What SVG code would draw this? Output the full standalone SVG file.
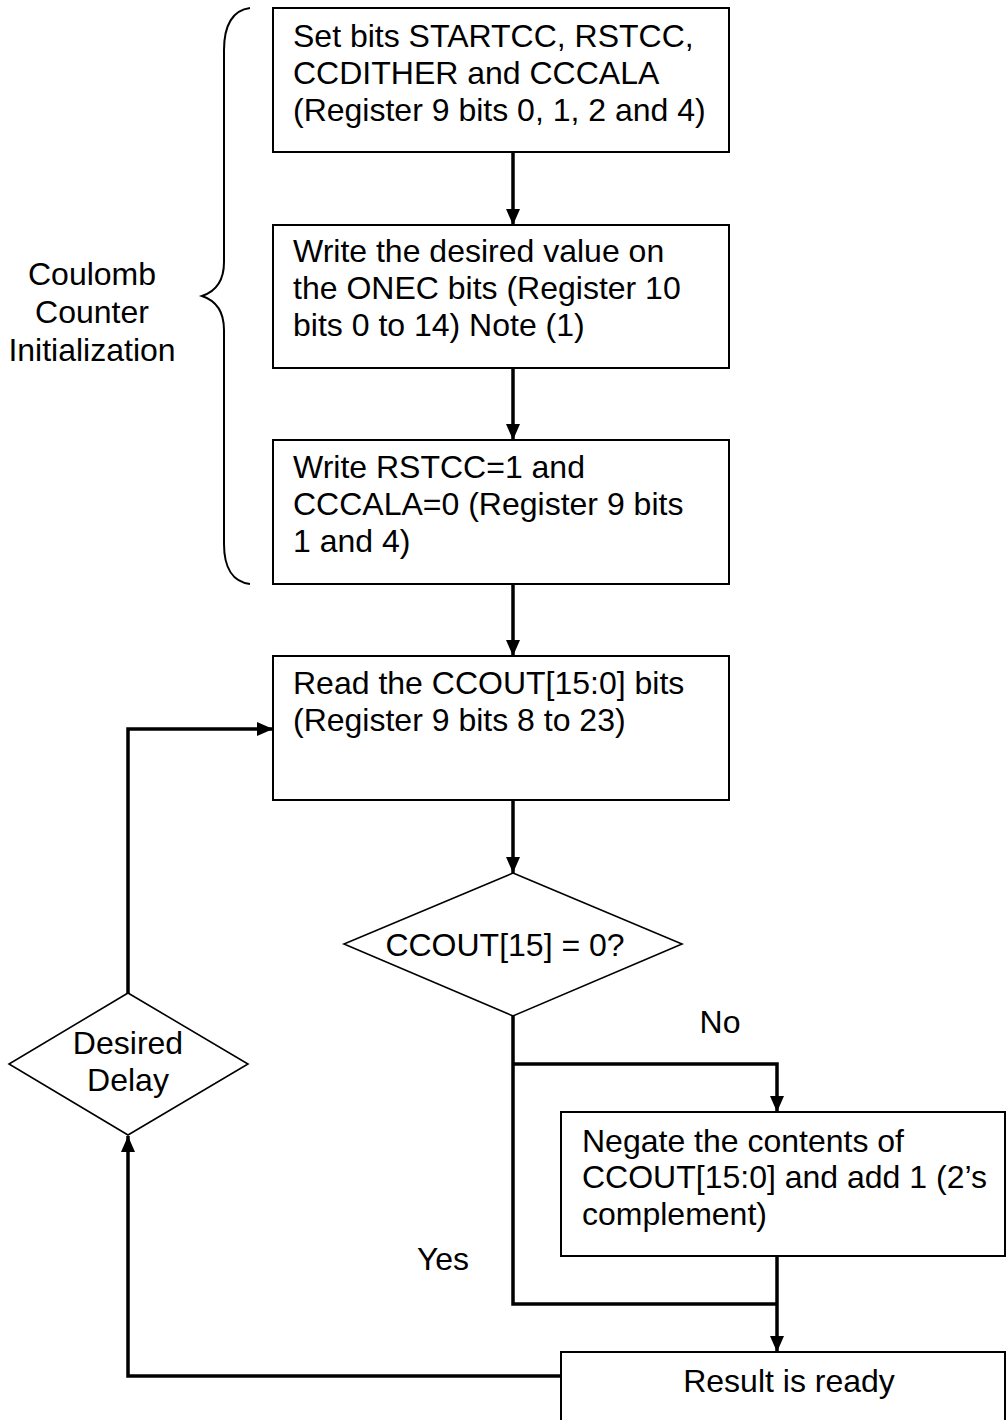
<svg xmlns="http://www.w3.org/2000/svg" width="1006" height="1420" viewBox="0 0 1006 1420">
<style>
text{font-family:"Liberation Sans",Arial,sans-serif;font-size:32px;fill:#000}
.box{fill:#fff;stroke:#000;stroke-width:2}
.dia{fill:#fff;stroke:#000;stroke-width:1.6}
.con{fill:none;stroke:#000;stroke-width:3.5}
.mid{text-anchor:middle}
</style>
<defs>
<marker id="arr" markerUnits="userSpaceOnUse" markerWidth="16" markerHeight="14" refX="16" refY="7" orient="auto">
<path d="M0,0 L16,7 L0,14 z" fill="#000"/>
</marker>
</defs>
<rect width="1006" height="1420" fill="#fff"/>
<g id="brace">
<path d="M250,8 C233,10 224,25 224,50 L224,262 C224,282 214,292 202,296 C214,300 224,310 224,330 L224,544 C224,568 233,582 250,584" fill="none" stroke="#000" stroke-width="2"/>
<text class="mid" x="92" y="285">Coulomb</text>
<text class="mid" x="92" y="323">Counter</text>
<text class="mid" x="92" y="361">Initialization</text>
</g>
<g id="connectors">
<path class="con" d="M513,152 V225" marker-end="url(#arr)"/>
<path class="con" d="M513,368 V440" marker-end="url(#arr)"/>
<path class="con" d="M513,584 V656" marker-end="url(#arr)"/>
<path class="con" d="M513,800 V873" marker-end="url(#arr)"/>
<path class="con" d="M513,1016 V1304 H777"/>
<path class="con" d="M513,1064 H777 V1112" marker-end="url(#arr)"/>
<path class="con" d="M777,1256 V1352" marker-end="url(#arr)"/>
<path class="con" d="M561,1376 H128 V1136" marker-end="url(#arr)"/>
<path class="con" d="M128,993 V729 H273" marker-end="url(#arr)"/>
<text class="mid" x="720" y="1033">No</text>
<text class="mid" x="443" y="1270">Yes</text>
</g>
<g id="n1">
<rect class="box" x="273" y="8" width="456" height="144"/>
<text x="293" y="47">Set bits STARTCC, RSTCC,</text>
<text x="293" y="84">CCDITHER and CCCALA</text>
<text x="293" y="121">(Register 9 bits 0, 1, 2 and 4)</text>
</g>
<g id="n2">
<rect class="box" x="273" y="225" width="456" height="143"/>
<text x="293" y="262">Write the desired value on</text>
<text x="293" y="299">the ONEC bits (Register 10</text>
<text x="293" y="336">bits 0 to 14) Note (1)</text>
</g>
<g id="n3">
<rect class="box" x="273" y="440" width="456" height="144"/>
<text x="293" y="478">Write RSTCC=1 and</text>
<text x="293" y="515">CCCALA=0 (Register 9 bits</text>
<text x="293" y="552">1 and 4)</text>
</g>
<g id="n4">
<rect class="box" x="273" y="656" width="456" height="144"/>
<text x="293" y="694">Read the CCOUT[15:0] bits</text>
<text x="293" y="731">(Register 9 bits 8 to 23)</text>
</g>
<g id="d1">
<polygon class="dia" points="513,873 682,944 513,1016 344,944"/>
<text class="mid" x="505" y="956">CCOUT[15] = 0?</text>
</g>
<g id="n5">
<rect class="box" x="561" y="1112" width="444" height="144"/>
<text x="582" y="1152">Negate the contents of</text>
<text x="582" y="1188">CCOUT[15:0] and add 1 (2’s</text>
<text x="582" y="1225">complement)</text>
</g>
<g id="n6">
<rect class="box" x="561" y="1352" width="444" height="100"/>
<text class="mid" x="789" y="1392">Result is ready</text>
</g>
<g id="d2">
<polygon class="dia" points="128,993 248,1064 128,1135 9,1064"/>
<text class="mid" x="128" y="1054">Desired</text>
<text class="mid" x="128" y="1091">Delay</text>
</g>
</svg>
